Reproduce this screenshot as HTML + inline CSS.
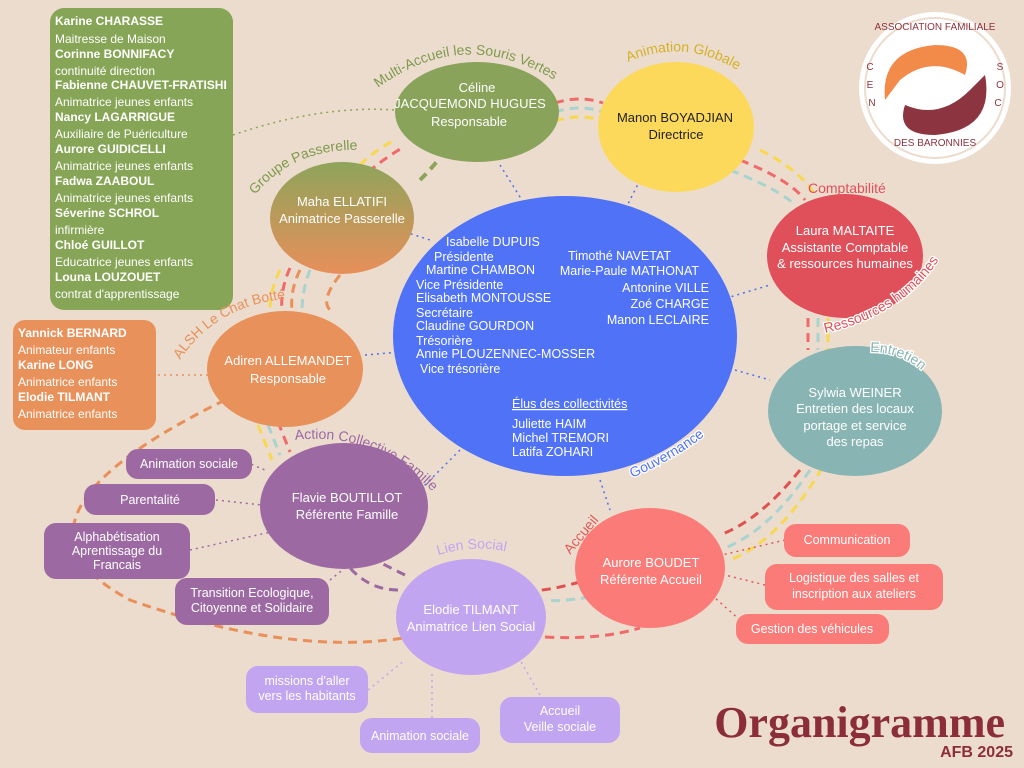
<!DOCTYPE html>
<html><head><meta charset="utf-8"><style>
html,body{margin:0;padding:0;background:#ecdccd;}
svg{display:block;font-family:"Liberation Sans",sans-serif;}
.w{fill:#fff}
.h{stroke:#fff;stroke-width:2.5;paint-order:stroke;}
</style></head><body>
<svg width="1024" height="768" viewBox="0 0 1024 768" xmlns="http://www.w3.org/2000/svg">
<rect width="1024" height="768" fill="#ecdccd"/>
<defs>
<linearGradient id="gm" x1="0" y1="0" x2="0" y2="1"><stop offset="0" stop-color="#8ea45a"/><stop offset="1" stop-color="#e88f5a"/></linearGradient>
<path id="p1" d="M378,88 Q470,20 570,90"/>
<path id="p2" d="M628,62 Q700,30 770,95"/>
<path id="p3" d="M255,195 Q300,140 385,152"/>
<path id="p4" d="M180,360 Q220,300 300,298"/>
<path id="p5" d="M295,440 Q380,430 440,500"/>
<path id="p6" d="M438,555 Q490,540 530,560"/>
<path id="p7" d="M570,555 Q595,525 612,505"/>
<path id="p8" d="M632,478 Q690,452 720,422"/>
<path id="p9" d="M825,333 Q905,315 942,255"/>
<path id="p10" d="M870,352 Q915,352 940,392"/>
</defs>
<g fill="none" stroke-width="3" stroke-dasharray="9 6">
<path d="M555,103 Q580,95 603,103" stroke="#f06a6a"/>
<path d="M555,112 Q580,104 603,112" stroke="#a9d3d0"/>
<path d="M555,121 Q580,113 603,121" stroke="#f8d850"/>
<path d="M740,160 Q790,180 805,200" stroke="#f06a6a"/>
<path d="M730,170 Q780,190 795,205" stroke="#a9d3d0"/>
<path d="M760,150 Q800,170 815,195" stroke="#f8d850"/>
<path d="M808,318 L808,350" stroke="#f06a6a"/>
<path d="M818,318 L818,350" stroke="#a9d3d0"/>
<path d="M828,318 L828,350" stroke="#f8d850"/>
<path d="M800,470 Q760,520 720,535" stroke="#e05050"/>
<path d="M810,470 Q770,530 725,548" stroke="#a9d3d0"/>
<path d="M822,468 Q780,540 730,560" stroke="#f8d850"/>
<path d="M580,582 Q550,590 540,590" stroke="#e05050"/>
<path d="M590,597 Q560,602 545,600" stroke="#a9d3d0"/>
<path d="M405,575 Q385,565 365,555" stroke="#9c69a3"/>
<path d="M398,590 Q370,590 350,568" stroke="#9c69a3"/>
<path d="M268,425 L280,455" stroke="#a9d3d0"/>
<path d="M258,425 L272,460" stroke="#f8d850"/>
<path d="M278,422 L290,452" stroke="#f06a6a"/>
<path d="M300,270 Q290,290 292,310" stroke="#e88f5a"/>
<path d="M280,270 Q270,290 270,310" stroke="#f8d850"/>
<path d="M290,268 Q280,290 282,312" stroke="#f06a6a"/>
<path d="M310,270 Q302,290 302,312" stroke="#a9d3d0"/>
<path d="M360,165 Q375,150 395,140" stroke="#f8d850"/>
<path d="M368,172 Q385,158 402,148" stroke="#f06a6a"/>
<path d="M420,180 Q430,170 440,158" stroke="#8ea45a" stroke-width="4"/>
<path d="M340,275 Q320,300 330,310" stroke="#e88f5a" stroke-width="3"/>
<path d="M225,400 Q-20,520 130,600 Q300,660 420,635" stroke="#e88f5a"/>
<path d="M545,637 Q600,640 640,628" stroke="#f06a6a"/>
</g>
<g fill="none" stroke-width="1.5" stroke-dasharray="2 4">
<path d="M500,165 L525,205" stroke="#4f70f0"/>
<path d="M640,180 L625,210" stroke="#4f70f0"/>
<path d="M720,300 L770,285" stroke="#4f70f0"/>
<path d="M735,370 L770,380" stroke="#4f70f0"/>
<path d="M600,480 L610,510" stroke="#4f70f0"/>
<path d="M460,450 L420,490" stroke="#4f70f0"/>
<path d="M365,355 L400,352" stroke="#4f70f0"/>
<path d="M405,232 L430,240" stroke="#4f70f0"/>
<path d="M233,135 Q320,105 395,110" stroke="#8ea45a"/>
<path d="M158,375 L208,375" stroke="#e88f5a"/>
<g stroke="#9c69a3"><path d="M246,462 L265,470"/><path d="M216,500 L262,505"/><path d="M190,550 L280,530"/><path d="M330,580 L345,568"/></g>
<g stroke="#e05a5a"><path d="M785,540 L722,555"/><path d="M765,585 L725,575"/><path d="M740,620 L715,598"/></g>
<g stroke="#c2a5f0"><path d="M368,690 L405,660"/><path d="M432,718 L432,672"/><path d="M540,695 L520,660"/></g>
</g>
<rect x="50" y="8" width="183" height="302" rx="14" fill="#87a556"/>
<g font-size="12" fill="#fff">
<text x="55" y="25" font-weight="bold">Karine CHARASSE</text><text x="55" y="43">Maitresse de Maison</text>
<text x="55" y="58" font-weight="bold">Corinne BONNIFACY</text><text x="55" y="75">continuité direction</text>
<text x="55" y="89" font-weight="bold">Fabienne CHAUVET-FRATISHI</text><text x="55" y="106">Animatrice jeunes enfants</text>
<text x="55" y="121" font-weight="bold">Nancy LAGARRIGUE</text><text x="55" y="138">Auxiliaire de Puériculture</text>
<text x="55" y="153" font-weight="bold">Aurore GUIDICELLI</text><text x="55" y="170">Animatrice jeunes enfants</text>
<text x="55" y="185" font-weight="bold">Fadwa ZAABOUL</text><text x="55" y="202">Animatrice jeunes enfants</text>
<text x="55" y="217" font-weight="bold">Séverine SCHROL</text><text x="55" y="234">infirmière</text>
<text x="55" y="249" font-weight="bold">Chloé GUILLOT</text><text x="55" y="266">Educatrice jeunes enfants</text>
<text x="55" y="281" font-weight="bold">Louna LOUZOUET</text><text x="55" y="298">contrat d'apprentissage</text>
</g>
<rect x="13" y="320" width="143" height="110" rx="12" fill="#e8915a"/>
<g font-size="12" fill="#fff">
<text x="18" y="337" font-weight="bold">Yannick BERNARD</text><text x="18" y="354">Animateur enfants</text>
<text x="18" y="369" font-weight="bold">Karine LONG</text><text x="18" y="386">Animatrice enfants</text>
<text x="18" y="401" font-weight="bold">Elodie TILMANT</text><text x="18" y="418">Animatrice enfants</text>
</g>
<g fill="#9c69a3">
<rect x="126" y="449" width="126" height="30" rx="12"/><rect x="84" y="484" width="131" height="31" rx="12"/>
<rect x="44" y="523" width="146" height="56" rx="12"/><rect x="175" y="578" width="154" height="47" rx="12"/>
</g>
<g font-size="12.5" fill="#fff" text-anchor="middle">
<text x="189" y="468">Animation sociale</text><text x="150" y="504">Parentalité</text>
<text x="117" y="541">Alphabétisation</text><text x="117" y="555">Aprentissage du</text><text x="117" y="569">Francais</text>
<text x="252" y="597">Transition Ecologique,</text><text x="252" y="612">Citoyenne et Solidaire</text>
</g>
<g fill="#fb7b78">
<rect x="784" y="524" width="126" height="33" rx="12"/><rect x="765" y="564" width="178" height="46" rx="12"/><rect x="736" y="614" width="153" height="30" rx="12"/>
</g>
<g font-size="12.5" fill="#fff" text-anchor="middle">
<text x="847" y="544">Communication</text><text x="854" y="582">Logistique des salles et</text><text x="854" y="598">inscription aux ateliers</text><text x="812" y="633">Gestion des véhicules</text>
</g>
<g fill="#c2a5f0">
<rect x="246" y="666" width="122" height="47" rx="12"/><rect x="360" y="718" width="120" height="35" rx="12"/><rect x="500" y="697" width="120" height="46" rx="12"/>
</g>
<g font-size="12.5" fill="#fff" text-anchor="middle">
<text x="307" y="685">missions d'aller</text><text x="307" y="700">vers les habitants</text><text x="420" y="740">Animation sociale</text>
<text x="560" y="715">Accueil</text><text x="560" y="731">Veille sociale</text>
</g>
<ellipse cx="565" cy="336" rx="172" ry="140" fill="#4f72f6"/>
<ellipse cx="477" cy="112" rx="82" ry="50" fill="#8aa35a"/>
<ellipse cx="676" cy="127" rx="78" ry="65" fill="#fcd95a"/>
<ellipse cx="845" cy="256" rx="78" ry="62" fill="#e0505a"/>
<ellipse cx="855" cy="411" rx="87" ry="65" fill="#88b5b3"/>
<ellipse cx="650" cy="568" rx="75" ry="60" fill="#fb7b78"/>
<ellipse cx="471" cy="617" rx="75" ry="58" fill="#c2a5f0"/>
<ellipse cx="344" cy="506" rx="84" ry="63" fill="#9c69a3"/>
<ellipse cx="285" cy="369" rx="78" ry="58" fill="#e8915a"/>
<ellipse cx="342" cy="218" rx="72" ry="56" fill="url(#gm)"/>
<g text-anchor="middle" font-size="13">
<text x="477" y="92" class="w">Céline</text><text x="470" y="108" class="w">JACQUEMOND HUGUES</text><text x="469" y="126" class="w">Responsable</text>
<text x="675" y="122" fill="#222">Manon BOYADJIAN</text><text x="676" y="139" fill="#222">Directrice</text>
<text x="845" y="235" class="w">Laura MALTAITE</text><text x="845" y="252" class="w">Assistante Comptable</text><text x="845" y="268" class="w">&amp; ressources humaines</text>
<text x="855" y="397" class="w">Sylwia WEINER</text><text x="855" y="413" class="w">Entretien des locaux</text><text x="855" y="430" class="w">portage et service</text><text x="855" y="446" class="w">des repas</text>
<text x="651" y="567" class="w">Aurore BOUDET</text><text x="651" y="584" class="w">Référente Accueil</text>
<text x="471" y="614" class="w">Elodie TILMANT</text><text x="471" y="631" class="w">Animatrice Lien Social</text>
<text x="347" y="502" class="w">Flavie BOUTILLOT</text><text x="347" y="519" class="w">Référente Famille</text>
<text x="288" y="365" class="w">Adiren ALLEMANDET</text><text x="288" y="383" class="w">Responsable</text>
<text x="342" y="206" class="w">Maha ELLATIFI</text><text x="342" y="223" class="w">Animatrice Passerelle</text>
</g>
<g font-size="12.5" class="w">
<text x="446" y="246">Isabelle DUPUIS</text><text x="434" y="261">Présidente</text>
<text x="426" y="274">Martine CHAMBON</text><text x="416" y="289">Vice Présidente</text>
<text x="416" y="302">Elisabeth MONTOUSSE</text><text x="416" y="317">Secrétaire</text>
<text x="416" y="330">Claudine GOURDON</text><text x="416" y="345">Trésorière</text>
<text x="416" y="358">Annie PLOUZENNEC-MOSSER</text><text x="420" y="373">Vice trésorière</text>
<text x="568" y="260">Timothé NAVETAT</text>
<g text-anchor="end"><text x="699" y="275">Marie-Paule MATHONAT</text><text x="709" y="292">Antonine VILLE</text><text x="709" y="308">Zoé CHARGE</text><text x="709" y="324">Manon LECLAIRE</text></g>
<text x="512" y="408" text-decoration="underline">Élus des collectivités</text>
<text x="512" y="428">Juliette HAIM</text><text x="512" y="442">Michel TREMORI</text><text x="512" y="456">Latifa ZOHARI</text>
</g>
<g font-size="14">
<text fill="#7f9a4e"><textPath href="#p1">Multi-Accueil les Souris Vertes</textPath></text>
<text fill="#d4b12a"><textPath href="#p2">Animation Globale</textPath></text>
<text fill="#7f9a4e"><textPath href="#p3">Groupe Passerelle</textPath></text>
<text fill="#e8915a"><textPath href="#p4">ALSH Le Chat Botté</textPath></text>
<text fill="#9c69a3"><textPath href="#p5">Action Collective Famille</textPath></text>
<text fill="#c2a5f0"><textPath href="#p6">Lien Social</textPath></text>
<text fill="#e05a5a"><textPath href="#p7">Accueil</textPath></text>
<text fill="#4f72f6" class="h"><textPath href="#p8">Gouvernance</textPath></text>
<text fill="#e0505a" class="h"><textPath href="#p9">Ressources humaines</textPath></text>
<text fill="#88b5b3" class="h"><textPath href="#p10">Entretien</textPath></text>
<text x="808" y="193" fill="#e0505a">Comptabilité</text>
</g>
<circle cx="935" cy="88" r="76" fill="#fff"/>
<circle cx="935" cy="88" r="70" fill="none" stroke="#ecdccd" stroke-width="2"/>
<path d="M885,100 Q880,50 935,45 Q975,45 965,75 Q930,55 900,80 Z" fill="#f28a4a"/>
<path d="M985,75 Q995,130 935,135 Q895,135 905,105 Q940,120 970,90 Z" fill="#8c3440"/>
<ellipse cx="935" cy="90" rx="25" ry="13" fill="#fff" transform="rotate(-15 935 90)"/>
<g font-size="10" fill="#8c3440" text-anchor="middle"><text x="935" y="30">ASSOCIATION FAMILIALE</text><text x="935" y="146">DES BARONNIES</text><text x="870" y="70">C</text><text x="870" y="88">E</text><text x="872" y="106">N</text><text x="1000" y="70">S</text><text x="1000" y="88">O</text><text x="998" y="106">C</text></g>
<text x="1005" y="737" text-anchor="end" font-family="Liberation Serif,serif" font-weight="bold" font-size="44" fill="#8b2e3a">Organigramme</text>
<text x="1013" y="757" text-anchor="end" font-weight="bold" font-size="16" fill="#8b2e3a">AFB 2025</text>
</svg>
</body></html>
